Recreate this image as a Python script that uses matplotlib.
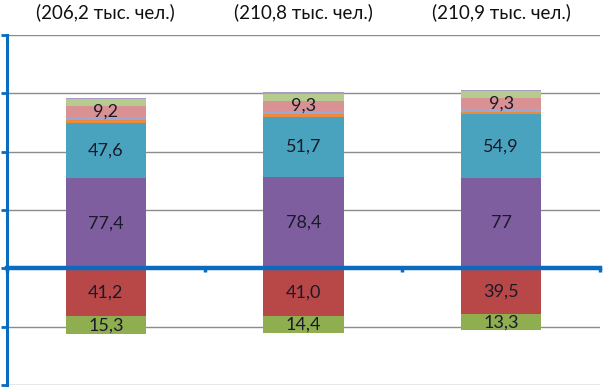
import matplotlib.pyplot as plt
import numpy as np

plt.rcParams['font.family'] = ['Lato', 'DejaVu Sans']

titles = ['(206,2 тыс. чел.)', '(210,8 тыс. чел.)', '(210,9 тыс. чел.)']

# positive stack, bottom to top
purple = [77.4, 78.4, 77.0]
teal = [47.6, 51.7, 54.9]
orange = [2.4, 2.0, 2.4]
lblue = [2.2, 2.4, 2.4]
pink = [9.2, 9.3, 9.3]
lgreen = [6.0, 5.4, 5.8]
lavender = [1.4, 1.6, 1.4]

# negative stack, top to bottom
red = [41.2, 41.0, 39.5]
green = [15.3, 14.4, 13.3]

purple_lbl = ['77,4', '78,4', '77']
teal_lbl = ['47,6', '51,7', '54,9']
pink_lbl = ['9,2', '9,3', '9,3']
red_lbl = ['41,2', '41,0', '39,5']
green_lbl = ['15,3', '14,4', '13,3']

x = np.arange(3)
w = 0.405

fig = plt.figure(figsize=(6.06, 3.87), dpi=100)
ax = fig.add_axes([7 / 606, 2 / 387, 593 / 606, 350 / 387])

pos = [(purple, '#7E5E9F'), (teal, '#4AA3BE'), (orange, '#EE8A3E'),
       (lblue, '#9AA8D6'), (pink, '#DA9193'), (lgreen, '#B6CC8F'),
       (lavender, '#A89CC2')]
bottom = np.zeros(3)
for vals, col in pos:
    ax.bar(x, vals, w, bottom=bottom, color=col, zorder=2)
    bottom += np.array(vals)

ax.bar(x, [-v for v in red], w, color='#B84747', zorder=2)
ax.bar(x, [-v for v in green], w, bottom=[-v for v in red], color='#8FAE50', zorder=2)

tc = '#1a1a2a'
fs = 13
for i in range(3):
    ax.text(x[i], purple[i] / 2, purple_lbl[i], ha='center', va='center', fontsize=fs, color=tc, zorder=3)
    ax.text(x[i], purple[i] + teal[i] / 2, teal_lbl[i], ha='center', va='center', fontsize=fs, color=tc, zorder=3)
    pb = purple[i] + teal[i] + orange[i] + lblue[i]
    ax.text(x[i], pb + pink[i] / 2, pink_lbl[i], ha='center', va='center', fontsize=fs, color=tc, zorder=3)
    ax.text(x[i], -red[i] / 2, red_lbl[i], ha='center', va='center', fontsize=fs, color=tc, zorder=3)
    ax.text(x[i], -red[i] - green[i] / 2, green_lbl[i], ha='center', va='center', fontsize=fs, color=tc, zorder=3)
    fig.text((7 + 593 * (i + 0.5) / 3) / 606, 1 - 12 / 387, titles[i], ha='center', va='center',
             fontsize=13.5, color='#111111')

ax.set_xlim(-0.5, 2.5)
ax.set_ylim(-100, 200)
for yv in [-100, -50, 50, 100, 150, 200]:
    ax.axhline(yv, color='#8c8c8c', lw=1, zorder=1)

ax.spines['top'].set_visible(False)
ax.spines['right'].set_visible(False)
ax.spines['left'].set_color('#0A6CC0')
ax.spines['left'].set_linewidth(2.2)
ax.spines['bottom'].set_position(('data', 0))
ax.spines['bottom'].set_color('#0A6CC0')
ax.spines['bottom'].set_linewidth(3.2)
ax.spines['bottom'].set_zorder(4)

ax.set_xticks([-0.5, 0.5, 1.5, 2.5])
ax.set_xticklabels([])
ax.tick_params(axis='x', direction='out', length=3, width=2.5, color='#0A6CC0')
ax.set_yticks([-100, -50, 0, 50, 100, 150, 200])
ax.set_yticklabels([])
ax.tick_params(axis='y', direction='out', length=4, width=2, color='#0A6CC0')
ax.set_facecolor('none')

fig.savefig('out.png', dpi=100)
